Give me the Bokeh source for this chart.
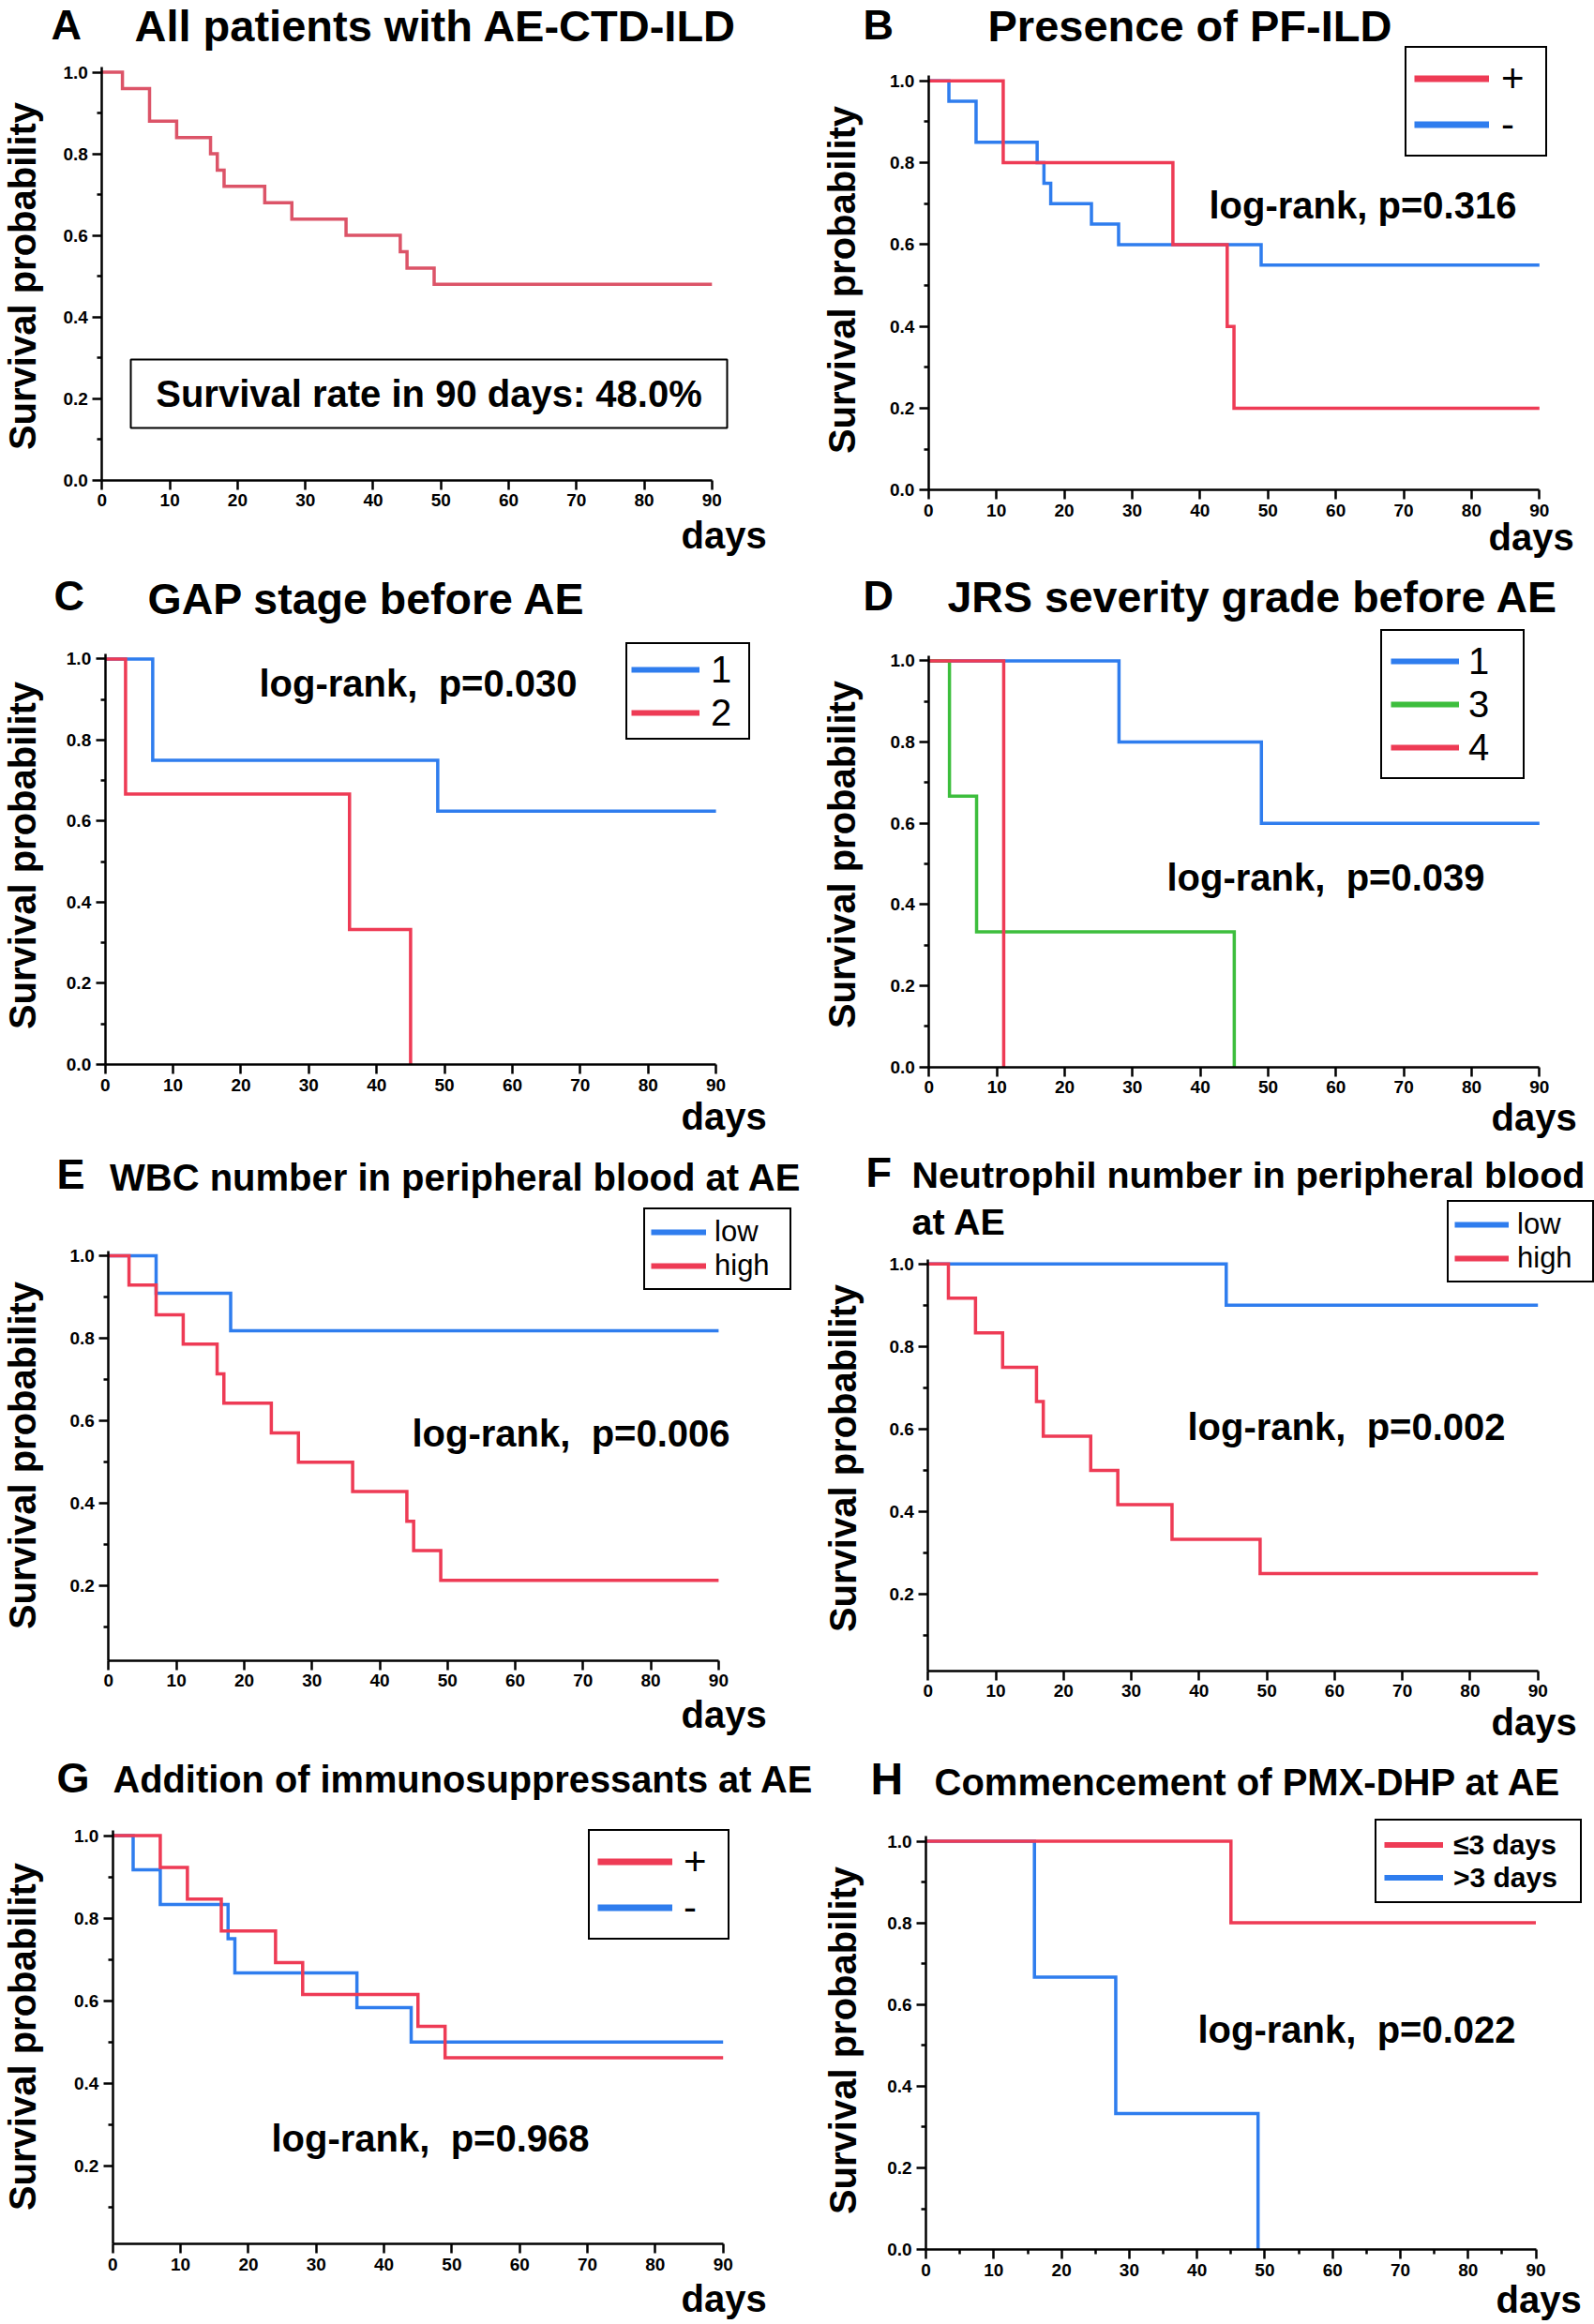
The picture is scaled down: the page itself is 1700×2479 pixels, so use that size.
import math
import numpy as np
from bokeh.plotting import figure
from bokeh.models import (Range1d, FixedTicker, PrintfTickFormatter, Label, Legend,
                          LegendItem, BoxAnnotation)
from bokeh.layouts import column, row
from bokeh.embed import file_html
from bokeh.resources import INLINE

# ---------------- data (Kaplan-Meier step points: day, survival) ----------------
A_days = [0, 3, 7, 11, 16, 17, 18, 24, 28, 36, 44, 45, 49, 90]
A_surv = [1.0, 0.96, 0.88, 0.84, 0.80, 0.76, 0.72, 0.68, 0.64, 0.60, 0.56, 0.52, 0.48, 0.48]

B_pos_days = [0, 11, 36, 44, 45, 90]
B_pos_surv = [1.0, 0.80, 0.60, 0.40, 0.20, 0.20]
B_neg_days = [0, 3, 7, 16, 17, 18, 24, 28, 49, 90]
B_neg_surv = [1.0, 0.95, 0.85, 0.80, 0.75, 0.70, 0.65, 0.60, 0.55, 0.55]

C_1_days = [0, 7, 49, 90]
C_1_surv = [1.0, 0.75, 0.625, 0.625]
C_2_days = [0, 3, 36, 45]
C_2_surv = [1.0, 0.667, 0.333, 0.0]

D_1_days = [0, 28, 49, 90]
D_1_surv = [1.0, 0.80, 0.60, 0.60]
D_3_days = [0, 3, 7, 45]
D_3_surv = [1.0, 0.667, 0.333, 0.0]
D_4_days = [0, 11]
D_4_surv = [1.0, 0.0]

E_low_days = [0, 7, 18, 90]
E_low_surv = [1.0, 0.909, 0.818, 0.818]
E_high_days = [0, 3, 7, 11, 16, 17, 24, 28, 36, 44, 45, 49, 90]
E_high_surv = [1.0, 0.929, 0.857, 0.786, 0.714, 0.643, 0.571, 0.50, 0.429, 0.357, 0.286, 0.214, 0.214]

F_low_days = [0, 44, 90]
F_low_surv = [1.0, 0.90, 0.90]
F_high_days = [0, 3, 7, 11, 16, 17, 24, 28, 36, 49, 90]
F_high_surv = [1.0, 0.917, 0.833, 0.75, 0.667, 0.583, 0.50, 0.417, 0.333, 0.25, 0.25]

G_pos_days = [0, 7, 11, 16, 24, 28, 45, 49, 90]
G_pos_surv = [1.0, 0.923, 0.846, 0.769, 0.692, 0.615, 0.538, 0.462, 0.462]
G_neg_days = [0, 3, 7, 17, 18, 36, 44, 90]
G_neg_surv = [1.0, 0.917, 0.833, 0.75, 0.667, 0.583, 0.50, 0.50]

H_le3_days = [0, 45, 90]
H_le3_surv = [1.0, 0.80, 0.80]
H_gt3_days = [0, 16, 28, 49]
H_gt3_surv = [1.0, 0.667, 0.333, 0.0]

x_ticks = [0, 10, 20, 30, 40, 50, 60, 70, 80, 90]
x_minor_H = [5, 15, 25, 35, 45, 55, 65, 75, 85]
y_ticks_full = [0.0, 0.2, 0.4, 0.6, 0.8, 1.0]
y_ticks_no0 = [0.2, 0.4, 0.6, 0.8, 1.0]
y_minor = [0.1, 0.3, 0.5, 0.7, 0.9]

titles = {
    "A": "All patients with AE-CTD-ILD",
    "B": "Presence of PF-ILD",
    "C": "GAP stage before AE",
    "D": "JRS severity grade before AE",
    "E": "WBC number in peripheral blood at AE",
    "F": "Neutrophil number in peripheral blood",
    "G": "Addition of immunosuppressants at AE",
    "H": "Commencement of PMX-DHP at AE",
}
pvals = {
    "B": "log-rank, p=0.316",
    "C": "log-rank,\u00a0 p=0.030",
    "D": "log-rank,\u00a0 p=0.039",
    "E": "log-rank,\u00a0 p=0.006",
    "F": "log-rank,\u00a0 p=0.002",
    "G": "log-rank,\u00a0 p=0.968",
    "H": "log-rank,\u00a0 p=0.022",
}

# ---------------- styles ----------------
RED = "#EE3B55"
A_RED = "#DC5468"
BLUE = "#2F7DEE"
GREEN = "#3DBE3D"
FONT = "Liberation Sans"
Y_TOP = 1.012
CURVE_W = 3.5
AXIS_W = 2.5
BASE_SHIFT = 0.35  # empirical baseline correction (fraction of font size)


class Frame:
    """Maps page pixels to data coordinates (x: days, y: survival)."""
    def __init__(self, L, R, Y1, Yb, yb):
        self.L, self.Y1 = L, Y1
        self.sx = (R - L) / 90.0
        self.sy = (Yb - Y1) / (1.0 - yb)

    def dx(self, px):
        return (px - self.L) / self.sx

    def dy(self, py):
        return 1.0 - (py - self.Y1) / self.sy


def make_panel(cell, L, R, Y1, Yb, yb, yticks, xminor):
    cx, cy, cw, ch = cell
    fr = Frame(L, R, Y1, Yb, yb)
    x0, x1 = fr.dx(cx), fr.dx(cx + cw)
    y1, y0 = fr.dy(cy), fr.dy(cy + ch)
    p = figure(width=cw, height=ch, x_range=Range1d(x0, x1), y_range=Range1d(y0, y1),
               min_border=0, min_border_left=0, min_border_right=0, min_border_top=0,
               min_border_bottom=0, output_backend="svg", toolbar_location=None)
    p.title.visible = False
    p.outline_line_color = None
    p.xgrid.visible = False
    p.ygrid.visible = False
    p.background_fill_color = "white"
    p.border_fill_color = "white"
    p.xaxis.ticker = FixedTicker(ticks=x_ticks, minor_ticks=xminor)
    p.yaxis.ticker = FixedTicker(ticks=yticks, minor_ticks=y_minor)
    p.yaxis.formatter = PrintfTickFormatter(format="%.1f")
    p.xaxis.fixed_location = yb
    p.yaxis.fixed_location = 0
    p.xaxis.bounds = (0, 90)
    p.yaxis.bounds = (yb, Y_TOP)
    for ax in (p.xaxis[0], p.yaxis[0]):
        ax.axis_line_width = AXIS_W
        ax.axis_line_color = "black"
        ax.major_tick_line_width = AXIS_W
        ax.minor_tick_line_width = AXIS_W
        ax.major_tick_line_color = "black"
        ax.minor_tick_line_color = "black"
        ax.major_tick_out = 10
        ax.major_tick_in = 0
        ax.minor_tick_out = 5
        ax.minor_tick_in = 0
        ax.major_label_text_font = FONT
        ax.major_label_text_font_size = "19px"
        ax.major_label_text_font_style = "bold"
        ax.major_label_text_color = "black"
        ax.major_label_standoff = 5
    return p, fr


def curve(p, xs, ys, color):
    p.step(x=xs, y=ys, mode="after", line_color=color, line_width=CURVE_W, line_join="miter")


def lab(p, fr, px, py, text, size, bold=True, align="left", angle=0.0):
    if angle == 0.0:
        py -= BASE_SHIFT * size
    else:
        px -= BASE_SHIFT * size
    p.add_layout(Label(x=fr.dx(px), y=fr.dy(py), text=text, text_font=FONT,
                       text_font_size=f"{size}px",
                       text_font_style="bold" if bold else "normal",
                       text_align=align, text_baseline="alphabetic", angle=angle,
                       text_color="black"))


def legend(p, cell, bl, bt, pad, ih, gw, so, lw, fs, bold, labels, colors, lwid):
    cx, cy, cw, ch = cell
    n = len(labels)
    height = 2 * pad + n * ih
    items = []
    for text, col in zip(labels, colors):
        # legend-only swatch renderer (no visible data)
        r = p.line(x=np.array([np.nan]), y=np.array([np.nan]), line_color=col, line_width=lwid)
        items.append(LegendItem(label=text, renderers=[r]))
    leg = Legend(items=items, location=(bl - cx, (cy + ch) - (bt + height)),
                 padding=pad, spacing=0, glyph_width=gw, glyph_height=ih,
                 label_height=ih, label_width=lw, label_standoff=so, margin=0,
                 border_line_color="black", border_line_width=2, border_line_alpha=1.0,
                 background_fill_color="white", background_fill_alpha=1.0,
                 label_text_font=FONT, label_text_font_size=f"{fs}px",
                 label_text_font_style="bold" if bold else "normal",
                 label_text_color="black")
    p.add_layout(leg, "center")


def common_text(p, fr, letter, lx, lbase, lsize, tx, tbase, tsize, ylab_x, ylab_y, days_x, days_y):
    lab(p, fr, lx, lbase, letter, lsize)
    lab(p, fr, tx, tbase, titles[letter], tsize)
    lab(p, fr, ylab_x, ylab_y, "Survival probability", 40, align="center", angle=math.pi / 2)
    lab(p, fr, days_x, days_y, "days", 40)


# ---------------- panels (page coordinates; canvas starts at page 0,0) ----------------
cA = (0, 0, 870, 600)
pA, fA = make_panel(cA, 108.4, 758.8, 76.5, 511.7, 0.0, y_ticks_full, [])
curve(pA, A_days, A_surv, A_RED)
common_text(pA, fA, "A", 54, 42, 45, 143, 43.5, 47, 37, 294, 726, 584)
pA.add_layout(BoxAnnotation(left=fA.dx(139), right=fA.dx(775), top=fA.dy(383), bottom=fA.dy(456),
                            fill_color=None, fill_alpha=0.0, line_color="black",
                            line_alpha=1.0, line_width=2))
lab(pA, fA, 457, 433, "Survival rate in 90 days: 48.0%", 40, align="center")

cB = (870, 0, 830, 600)
pB, fB = make_panel(cB, 989.8, 1641.3, 85.7, 522.4, 0.0, y_ticks_full, [])
curve(pB, B_neg_days, B_neg_surv, BLUE)
curve(pB, B_pos_days, B_pos_surv, RED)
common_text(pB, fB, "B", 920, 42, 45, 1053, 43.5, 47, 911, 298, 1587, 586)
lab(pB, fB, 1289, 232, pvals["B"], 40)
legend(pB, cB, 1498, 53, 8, 49, 80, 13, 39, 42, False, ["+", "-"], [RED, BLUE], 7)

cC = (0, 600, 870, 620)
pC, fC = make_panel(cC, 111.7, 763.1, 702.4, 1135.0, 0.0, y_ticks_full, [])
curve(pC, C_1_days, C_1_surv, BLUE)
curve(pC, C_2_days, C_2_surv, RED)
common_text(pC, fC, "C", 57, 651, 45, 157, 655, 46.5, 37, 912, 726, 1204)
lab(pC, fC, 276, 742, pvals["C"], 40)
legend(pC, cC, 667, 689, 4, 46, 73, 12, 36, 40, False, ["1", "2"], [BLUE, RED], 6)

cD = (870, 600, 830, 620)
pD, fD = make_panel(cD, 990.4, 1641.3, 704.4, 1137.8, 0.0, y_ticks_full, [])
curve(pD, D_1_days, D_1_surv, BLUE)
curve(pD, D_3_days, D_3_surv, GREEN)
curve(pD, D_4_days, D_4_surv, RED)
common_text(pD, fD, "D", 920, 651, 45, 1010, 653, 46.5, 911, 911, 1590, 1205)
lab(pD, fD, 1244, 949, pvals["D"], 40)
legend(pD, cD, 1472, 675, 9, 46, 73, 10, 49, 40, False, ["1", "3", "4"], [BLUE, GREEN, RED], 6)

cE = (0, 1220, 868, 646)
pE, fE = make_panel(cE, 115.4, 765.9, 1338.9, 1770.6, 0.02, y_ticks_no0, [])
curve(pE, E_low_days, E_low_surv, BLUE)
curve(pE, E_high_days, E_high_surv, RED)
common_text(pE, fE, "E", 60, 1268, 45, 116.5, 1269, 40, 37, 1552, 726, 1842)
lab(pE, fE, 439, 1542, pvals["E"], 40)
legend(pE, cE, 686, 1292, 6, 36, 59, 9, 74, 31, False, ["low", "high"], [BLUE, RED], 6)

cF = (868, 1220, 832, 646)
pF, fF = make_panel(cF, 989.3, 1639.7, 1347.8, 1781.6, 0.015, y_ticks_no0, [])
curve(pF, F_low_days, F_low_surv, BLUE)
curve(pF, F_high_days, F_high_surv, RED)
common_text(pF, fF, "F", 923, 1266, 45, 972, 1266, 39.4, 912, 1555, 1590, 1850)
lab(pF, fF, 972, 1316, "at AE", 39.4)
lab(pF, fF, 1266, 1535, pvals["F"], 40)
legend(pF, cF, 1543, 1284, 6, 36, 58, 9, 74, 31, False, ["low", "high"], [BLUE, RED], 6)

cG = (0, 1866, 874, 613)
pG, fG = make_panel(cG, 119.8, 770.7, 1957.5, 2393.4, 0.01, y_ticks_no0, [])
curve(pG, G_neg_days, G_neg_surv, BLUE)
curve(pG, G_pos_days, G_pos_surv, RED)
common_text(pG, fG, "G", 60, 1912, 45, 120, 1911, 39.8, 37, 2172, 726, 2465)
lab(pG, fG, 289, 2294, pvals["G"], 40)
legend(pG, cG, 627, 1955, 8, 49, 80, 12, 39, 42, False, ["+", "-"], [RED, BLUE], 7)

cH = (874, 1866, 826, 613)
pH, fH = make_panel(cH, 987.1, 1637.5, 1963.5, 2399.1, 0.0, y_ticks_full, x_minor_H)
curve(pH, H_gt3_days, H_gt3_surv, BLUE)
curve(pH, H_le3_days, H_le3_surv, RED)
common_text(pH, fH, "H", 928, 1914, 48, 996, 1914, 40, 912, 2176, 1595, 2466)
lab(pH, fH, 1277, 2178, pvals["H"], 40)
legend(pH, cH, 1466, 1944, 8, 35, 63, 11, 127, 30, True, ["\u22643 days", ">3 days"], [RED, BLUE], 6)

layout = column(row(pA, pB), row(pC, pD), row(pE, pF), row(pG, pH))

open("out.html", "w").write(file_html(layout, INLINE))
